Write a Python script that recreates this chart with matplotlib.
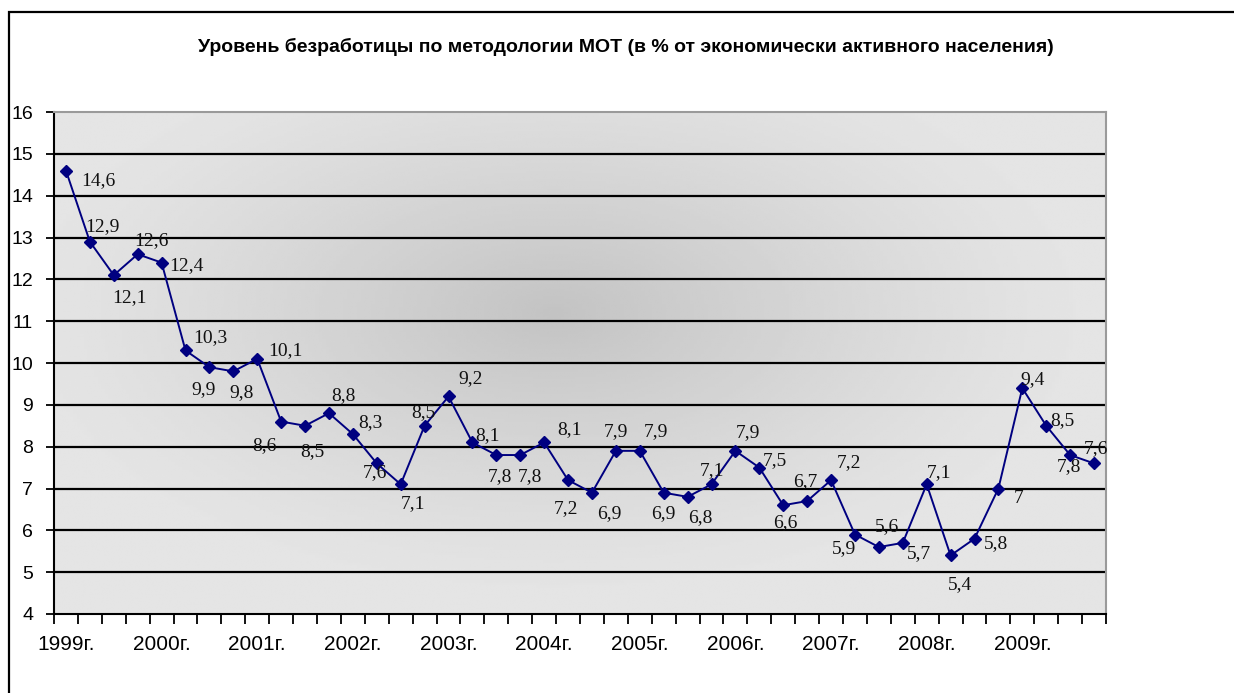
import numpy as np
import matplotlib
matplotlib.use("Agg")
import matplotlib.pyplot as plt
from matplotlib.patches import Rectangle
from matplotlib.colors import LinearSegmentedColormap

# ---- data ----
years = ["1999г.", "2000г.", "2001г.", "2002г.", "2003г.", "2004г.",
         "2005г.", "2006г.", "2007г.", "2008г.", "2009г."]
quarters_per_year = 4
values = [14.6, 12.9, 12.1, 12.6, 12.4, 10.3, 9.9, 9.8, 10.1, 8.6, 8.5, 8.8,
          8.3, 7.6, 7.1, 8.5, 9.2, 8.1, 7.8, 7.8, 8.1, 7.2, 6.9, 7.9,
          7.9, 6.9, 6.8, 7.1, 7.9, 7.5, 6.6, 6.7, 7.2, 5.9, 5.6, 5.7,
          7.1, 5.4, 5.8, 7.0, 9.4, 8.5, 7.8, 7.6]
title = "Уровень безработицы по методологии МОТ (в % от экономически активного населения)"

# label placement (pixel offsets from the marker, y up), style only
label_offsets = [(32, -10), (13, 15), (16, -22), (14, 14), (25, -3), (25, 13),
                 (-6, -22), (8, -21), (28, 8), (-17, -24), (7, -26), (14, 18),
                 (18, 12), (-2, -9), (12, -19), (-1, 13), (22, 18), (15, 7),
                 (4, -22), (10, -22), (25, 13), (-2, -28), (17, -21), (0, 19),
                 (16, 19), (0, -21), (13, -21), (0, 14), (13, 18), (16, 7),
                 (2, -17), (-2, 19), (18, 18), (-11, -14), (8, 20), (16, -11),
                 (12, 12), (9, -29), (21, -5), (20, -10), (10, 9), (16, 5),
                 (-1, -12), (2, 15)]

W, H = 1234, 693
fig = plt.figure(figsize=(W / 100, H / 100), dpi=100)
fig.patch.set_facecolor("white")

# outer chart border (top and left visible)
fig.add_artist(Rectangle((9 / W, -0.1), 1.2, (1 - 12 / H) + 0.1,
                         transform=fig.transFigure, fill=False,
                         edgecolor="black", linewidth=1.6, zorder=0))

ax = fig.add_axes([54 / W, 1 - 614 / H, (1106 - 54) / W, (614 - 112) / H])

n = len(values)
x = np.arange(n)

# gradient background
gx = np.linspace(-1, 1, 300)
gy = np.linspace(-1, 1, 200)
GX, GY = np.meshgrid(gx, gy)
cx, cy = -0.05, 0.2
r = np.sqrt(((GX - cx) / 1.0) ** 2 + ((GY - cy) / 1.1) ** 2)
t = np.clip(1 - r, 0, 1)
shade = 0.895 - (0.895 - 0.765) * t ** 1.2
cmap = LinearSegmentedColormap.from_list("g", ["black", "white"])
ax.imshow(shade, cmap=cmap, vmin=0, vmax=1, extent=[-0.5, n - 0.5, 4, 16],
          origin="lower", aspect="auto", zorder=0, interpolation="bilinear")

ax.set_xlim(-0.5, n - 0.5)
ax.set_ylim(4, 16)

for yv in range(5, 16):
    ax.axhline(yv, color="black", linewidth=1.6, zorder=1)

ax.plot(x, values, color="#000080", linewidth=1.4, marker="D",
        markersize=6.5, markerfacecolor="#000080", markeredgecolor="#000080",
        zorder=3)

for i, v in enumerate(values):
    lbl = ("%g" % v).replace(".", ",")
    dx, dy = label_offsets[i]
    ax.annotate(lbl, (x[i], v), xytext=(dx, dy), textcoords="offset pixels",
                ha="center", va="center", fontsize=14,
                family="Liberation Serif", color="#111111", zorder=4)

# axes styling
for s in ["top", "right"]:
    ax.spines[s].set_color("#9a9a9a")
    ax.spines[s].set_linewidth(1.5)
for s in ["left", "bottom"]:
    ax.spines[s].set_color("black")
    ax.spines[s].set_linewidth(1.5)

ax.set_yticks(range(4, 17))
ax.set_yticklabels([str(v) for v in range(4, 17)], family="Liberation Sans",
                   fontsize=14)
ax.tick_params(axis="y", direction="out", length=6, width=1.3, pad=9)

ax.set_xticks(np.arange(-0.5, n, 1.0))
ax.set_xticklabels([])
ax.tick_params(axis="x", which="major", direction="out", length=7, width=1.3)
ax.set_xticks(np.arange(0, n, quarters_per_year), minor=True)
ax.set_xticklabels(years, minor=True, family="Liberation Sans", fontsize=15)
ax.tick_params(axis="x", which="minor", length=0, pad=15)

fig.text(626 / W, 1 - 47 / H, title, ha="center", va="center",
         fontsize=14, fontweight="bold", family="Liberation Sans")

fig.savefig("out.png", dpi=100)
